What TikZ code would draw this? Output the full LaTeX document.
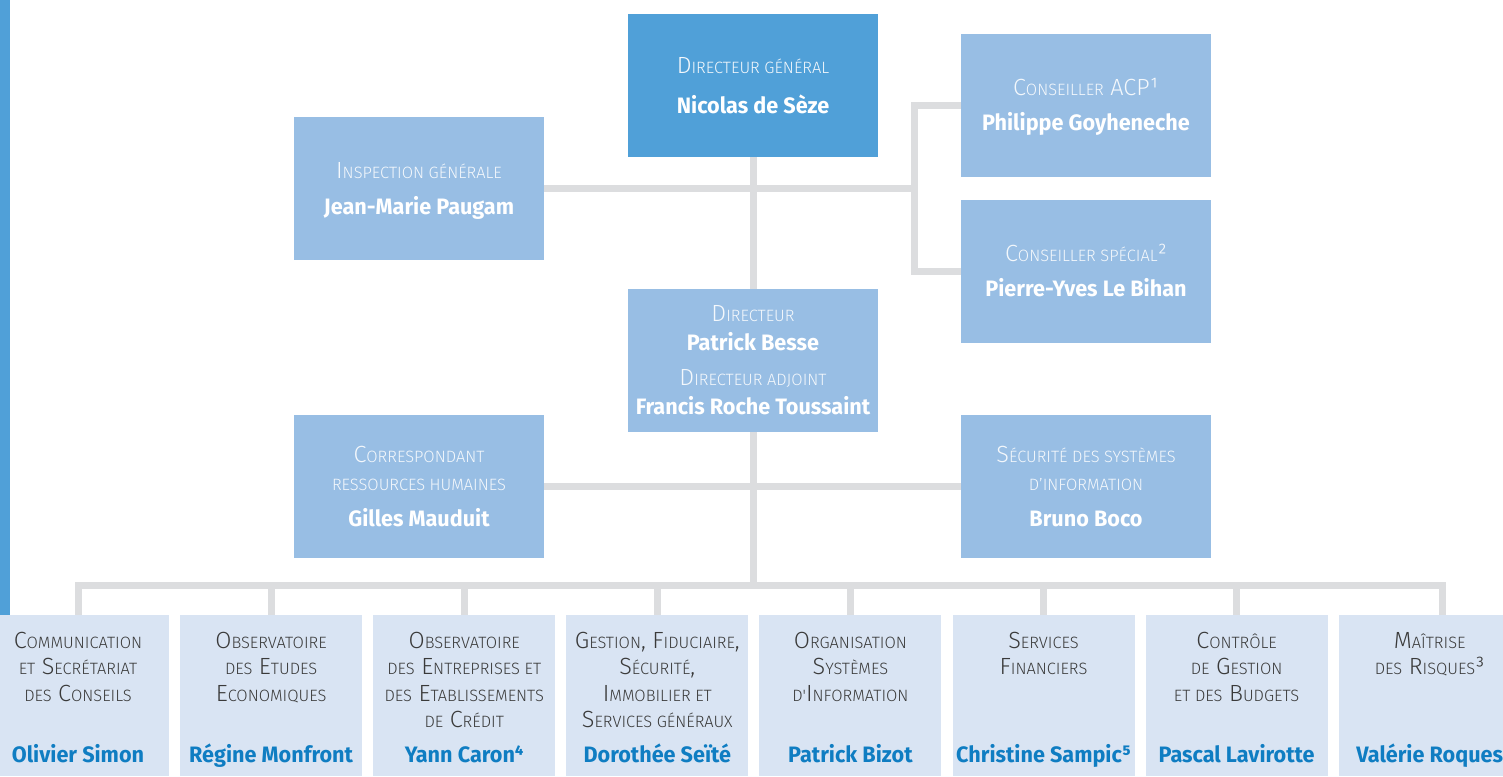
\documentclass[tikz,border=0pt]{standalone}
\usepackage{fontspec}
\setmainfont{Fira Sans}[FakeStretch=0.97]
\newfontfamily\lightfont{Fira Sans Light}
\usetikzlibrary{backgrounds}
\definecolor{dgblue}{HTML}{50A0D8}
\definecolor{lblue}{HTML}{98BEE4}
\definecolor{pblue}{HTML}{D9E4F3}
\definecolor{cgray}{HTML}{DCDDDF}
\definecolor{nameblue}{HTML}{0F7DC2}
\definecolor{ttgray}{HTML}{3A3A3A}
\definecolor{ttlight}{HTML}{F4F8FC}
\newcommand\scx[1]{{\fontsize{16.4}{16.4}\selectfont #1}}
\tikzset{
  ubox/.style={rectangle, inner sep=0, outer sep=0, minimum width=250, minimum height=143, fill=lblue},
  dgbox/.style={ubox, fill=dgblue},
  pbox/.style={rectangle, inner sep=0, outer sep=0, minimum width=182, minimum height=161, fill=pblue},
  ttw/.style={anchor=base, inner sep=0, text=ttlight, font=\lightfont\fontsize{23.4}{23.4}\selectfont},
  ttd/.style={anchor=base, inner sep=0, text=ttgray, font=\lightfont\fontsize{23.4}{23.4}\selectfont},
  nmw/.style={anchor=base, inner sep=0, text=white, font=\bfseries\fontsize{22.3}{22.3}\selectfont},
  nmb/.style={anchor=base, inner sep=0, text=nameblue, font=\bfseries\fontsize{22.3}{22.3}\selectfont},
  link/.style={draw=cgray, line width=7, line join=miter}
}
\begin{document}
\begin{tikzpicture}[x=1pt,y=-1pt]
\clip (0,0) rectangle (1503,776);
\fill[dgblue] (0,0) rectangle (10,615);
% upper boxes
\node[dgbox] (dg) at (753,85.5) {};
\node[ubox] (insp) at (419,188.5) {};
\node[ubox] (acp) at (1086,105.5) {};
\node[ubox] (spec) at (1086,271.5) {};
\node[ubox] (dir) at (753,360.5) {};
\node[ubox] (rh) at (419,486.5) {};
\node[ubox] (ssi) at (1086,486.5) {};
% bottom boxes
\node[pbox] (b1) at (78,695.5) {};
\node[pbox] (b2) at (271.1,695.5) {};
\node[pbox] (b3) at (464.2,695.5) {};
\node[pbox] (b4) at (657.3,695.5) {};
\node[pbox] (b5) at (850.4,695.5) {};
\node[pbox] (b6) at (1043.5,695.5) {};
\node[pbox] (b7) at (1236.6,695.5) {};
\node[pbox] (b8) at (1429.7,695.5) {};
\coordinate (bus) at (753,585.5);
\coordinate (kx) at (914,188.5);
\coordinate (j8) at (1442.5,615);
% connectors
\begin{pgfonlayer}{background}
\draw[link] (dg.south) -- (bus);
\draw[link] (insp.east) -- (kx);
\draw[link] (acp.west) -| (kx) |- (spec.west);
\draw[link] (rh.east) -- (ssi.west);
\draw[link] (b1.north) |- (j8 |- bus) -- (j8);
\foreach \i in {2,...,7} {\draw[link] (b\i.north) -- (b\i.north |- bus);}
\end{pgfonlayer}
% upper texts
\node[ttw] (dgt) at (753,74) {D\scx{IRECTEUR GÉNÉRAL}};
\node[nmw] (dgn) at (753,113) {Nicolas de Sèze};
\node[ttw] (inspt) at (419,178) {I\scx{NSPECTION GÉNÉRALE}};
\node[nmw] (inspn) at (419,214) {Jean-Marie Paugam};
\node[ttw] (acpt) at (1086,95) {C\scx{ONSEILLER} ACP¹};
\node[nmw] (acpn) at (1086,130) {Philippe Goyheneche};
\node[ttw] (spect) at (1086,261) {C\scx{ONSEILLER SPÉCIAL}²};
\node[nmw] (specn) at (1086,296) {Pierre-Yves Le Bihan};
\node[ttw] (dirt) at (753,321) {D\scx{IRECTEUR}};
\node[nmw] (dirn) at (753,350) {Patrick Besse};
\node[ttw] (adjt) at (753,385) {D\scx{IRECTEUR ADJOINT}};
\node[nmw] (adjn) at (753,414) {Francis Roche Toussaint};
\node[ttw] (rht1) at (419,462) {C\scx{ORRESPONDANT}};
\node[ttw] (rht2) at (419,490) {\scx{RESSOURCES HUMAINES}};
\node[nmw] (rhn) at (419,526) {Gilles Mauduit};
\node[ttw] (ssit1) at (1086,462) {S\scx{ÉCURITÉ DES SYSTÈMES}};
\node[ttw] (ssit2) at (1086,490) {\scx{D’INFORMATION}};
\node[nmw] (ssin) at (1086,526) {Bruno Boco};
% bottom texts
\node[ttd] (b1t1) at (78,648) {C\scx{OMMUNICATION}};
\node[ttd] (b1t2) at (78,674) {\scx{ET} S\scx{ECRÉTARIAT}};
\node[ttd] (b1t3) at (78,701) {\scx{DES} C\scx{ONSEILS}};
\node[nmb] (b1n) at (78,762) {Olivier Simon};
\node[ttd] (b2t1) at (271.1,648) {O\scx{BSERVATOIRE}};
\node[ttd] (b2t2) at (271.1,674) {\scx{DES} E\scx{TUDES}};
\node[ttd] (b2t3) at (271.1,701) {E\scx{CONOMIQUES}};
\node[nmb] (b2n) at (271.1,762) {Régine Monfront};
\node[ttd] (b3t1) at (464.2,648) {O\scx{BSERVATOIRE}};
\node[ttd] (b3t2) at (464.2,674) {\scx{DES} E\scx{NTREPRISES ET}};
\node[ttd] (b3t3) at (464.2,701) {\scx{DES} E\scx{TABLISSEMENTS}};
\node[ttd] (b3t4) at (464.2,727) {\scx{DE} C\scx{RÉDIT}};
\node[nmb] (b3n) at (464.2,762) {Yann Caron⁴};
\node[ttd] (b4t1) at (657.3,648) {G\scx{ESTION}, F\scx{IDUCIAIRE},};
\node[ttd] (b4t2) at (657.3,674) {S\scx{ÉCURITÉ},};
\node[ttd] (b4t3) at (657.3,701) {I\scx{MMOBILIER ET}};
\node[ttd] (b4t4) at (657.3,727) {S\scx{ERVICES GÉNÉRAUX}};
\node[nmb] (b4n) at (657.3,762) {Dorothée Seïté};
\node[ttd] (b5t1) at (850.4,648) {O\scx{RGANISATION}};
\node[ttd] (b5t2) at (850.4,674) {S\scx{YSTÈMES}};
\node[ttd] (b5t3) at (850.4,701) {\scx{D'}I\scx{NFORMATION}};
\node[nmb] (b5n) at (850.4,762) {Patrick Bizot};
\node[ttd] (b6t1) at (1043.5,648) {S\scx{ERVICES}};
\node[ttd] (b6t2) at (1043.5,674) {F\scx{INANCIERS}};
\node[nmb] (b6n) at (1043.5,762) {Christine Sampic⁵};
\node[ttd] (b7t1) at (1236.6,648) {C\scx{ONTRÔLE}};
\node[ttd] (b7t2) at (1236.6,674) {\scx{DE} G\scx{ESTION}};
\node[ttd] (b7t3) at (1236.6,701) {\scx{ET DES} B\scx{UDGETS}};
\node[nmb] (b7n) at (1236.6,762) {Pascal Lavirotte};
\node[ttd] (b8t1) at (1429.7,648) {M\scx{AÎTRISE}};
\node[ttd] (b8t2) at (1429.7,674) {\scx{DES} R\scx{ISQUES}³};
\node[nmb] (b8n) at (1429.7,762) {Valérie Roques};
\end{tikzpicture}
\end{document}
